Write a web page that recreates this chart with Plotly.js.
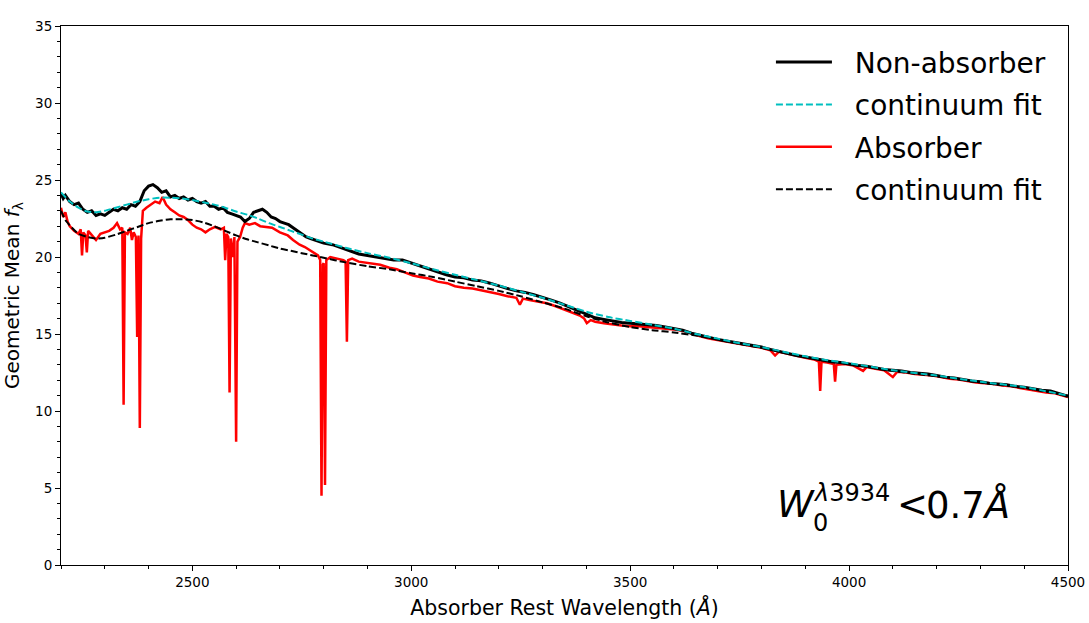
<!DOCTYPE html>
<html>
<head>
<meta charset="utf-8">
<script src="https://cdn.plot.ly/plotly-3.0.1.min.js"></script>
<style>
  html, body { margin: 0; padding: 0; background: white; }
  #chart { width: 1089px; height: 623px; }
</style>
</head>
<body>
<div id="chart"></div>
<script>
// Non-absorber composite (black solid)
const nonAbsWave = [2200, 2205, 2210, 2220, 2230, 2240, 2250, 2260, 2270, 2280, 2290, 2300, 2310, 2320, 2330, 2340, 2350, 2360, 2370, 2380,
    2390, 2400, 2410, 2420, 2430, 2440, 2450, 2460, 2470, 2480, 2490, 2500, 2510, 2520, 2530, 2540, 2550, 2560, 2570, 2580,
    2590, 2600, 2610, 2620, 2630, 2640, 2650, 2660, 2670, 2680, 2690, 2700, 2710, 2720, 2730, 2740, 2750, 2760, 2770, 2780,
    2790, 2800, 2820, 2840, 2860, 2880, 2900, 2920, 2940, 2960, 2980, 3000, 3020, 3040, 3060, 3080, 3100, 3120, 3140, 3160,
    3180, 3200, 3220, 3240, 3260, 3280, 3300, 3320, 3340, 3360, 3380, 3400, 3420, 3440, 3460, 3480, 3500, 3520, 3540, 3560,
    3580, 3600, 3620, 3640, 3660, 3680, 3700, 3720, 3740, 3760, 3780, 3800, 3820, 3840, 3860, 3880, 3900, 3920, 3940, 3960,
    3980, 4000, 4020, 4040, 4060, 4080, 4100, 4120, 4140, 4160, 4180, 4200, 4220, 4240, 4260, 4280, 4300, 4320, 4340, 4360,
    4380, 4400, 4420, 4440, 4460, 4480, 4500];
const nonAbsFlux = [24.1, 23.8, 24.0, 23.6, 23.4, 23.5, 23.1, 22.9, 23.0, 22.7, 22.8, 22.7, 22.9, 23.1, 23.0, 23.2, 23.1, 23.4, 23.3, 23.6,
    24.3, 24.6, 24.7, 24.5, 24.2, 24.3, 23.9, 24.0, 23.8, 23.9, 23.7, 23.8, 23.6, 23.5, 23.6, 23.3, 23.3, 23.1, 23.2, 22.9,
    22.8, 22.7, 22.6, 22.3, 22.5, 22.9, 23.0, 23.1, 22.9, 22.6, 22.5, 22.3, 22.2, 22.1, 21.9, 21.7, 21.5, 21.3, 21.2, 21.1,
    21.0, 20.9, 20.8, 20.6, 20.4, 20.2, 20.1, 20.0, 19.9, 19.8, 19.8, 19.6, 19.4, 19.2, 19.0, 18.85, 18.7, 18.65, 18.5, 18.45,
    18.3, 18.1, 17.95, 17.8, 17.7, 17.55, 17.4, 17.2, 17.0, 16.75, 16.5, 16.25, 16.05, 15.95, 15.85, 15.75, 15.7, 15.65, 15.6, 15.55,
    15.45, 15.35, 15.25, 15.05, 14.9, 14.75, 14.65, 14.55, 14.45, 14.35, 14.25, 14.15, 14.0, 13.85, 13.75, 13.6, 13.5, 13.4, 13.3, 13.2,
    13.15, 13.05, 12.95, 12.9, 12.8, 12.7, 12.65, 12.6, 12.5, 12.45, 12.4, 12.3, 12.2, 12.15, 12.05, 11.95, 11.9, 11.8, 11.75, 11.7,
    11.6, 11.55, 11.45, 11.35, 11.3, 11.1, 10.95];

// Continuum fit to non-absorber (cyan dashed)
const nonAbsFitWave = [2200, 2220, 2240, 2260, 2280, 2300, 2325, 2350, 2375, 2400, 2425, 2450, 2475, 2500, 2525, 2550, 2575, 2600, 2625, 2650,
    2675, 2700, 2725, 2750, 2775, 2800, 2850, 2900, 2950, 3000, 3050, 3100, 3150, 3200, 3250, 3300, 3350, 3400, 3450, 3500,
    3550, 3600, 3650, 3700, 3750, 3800, 3850, 3900, 3950, 4000, 4100, 4200, 4300, 4400, 4500];
const nonAbsFitFlux = [24.2, 23.6, 23.2, 22.95, 22.9, 23.0, 23.2, 23.4, 23.6, 23.75, 23.85, 23.85, 23.8, 23.7, 23.55, 23.4, 23.2, 22.95, 22.75, 22.5,
    22.2, 21.95, 21.7, 21.45, 21.2, 21.0, 20.6, 20.25, 19.95, 19.6, 19.2, 18.85, 18.5, 18.15, 17.75, 17.35, 16.9, 16.45, 16.1, 15.85,
    15.6, 15.35, 15.0, 14.7, 14.4, 14.15, 13.85, 13.55, 13.3, 13.1, 12.65, 12.3, 11.9, 11.55, 11.0];

// Absorber composite (red solid)
const absWave = [2200, 2205, 2210, 2215, 2220, 2230, 2240, 2245, 2248, 2251, 2256, 2259, 2262, 2270, 2280, 2290, 2300, 2310, 2320, 2328,
    2335, 2340, 2343, 2346, 2352, 2358, 2362, 2366, 2371, 2374, 2377, 2380, 2383, 2387, 2395, 2405, 2415, 2425, 2432, 2440,
    2450, 2460, 2470, 2480, 2490, 2500, 2510, 2520, 2530, 2540, 2552, 2565, 2572, 2575, 2578, 2582, 2585, 2588, 2593, 2596,
    2600, 2603, 2609, 2615, 2620, 2630, 2643, 2655, 2670, 2682, 2700, 2718, 2730, 2745, 2757, 2770, 2787, 2792, 2795, 2798,
    2800, 2803, 2806, 2815, 2833, 2845, 2850, 2853, 2856, 2865, 2880, 2900, 2929, 2950, 2967, 2985, 3004, 3020, 3040, 3060,
    3082, 3100, 3120, 3140, 3157, 3180, 3200, 3220, 3240, 3248, 3255, 3270, 3290, 3310, 3330, 3350, 3370, 3385, 3395, 3401,
    3410, 3420, 3440, 3461, 3480, 3500, 3520, 3539, 3560, 3580, 3600, 3620, 3640, 3660, 3680, 3700, 3720, 3740, 3760, 3780,
    3800, 3820, 3831, 3840, 3860, 3880, 3900, 3920, 3931, 3934, 3937, 3950, 3965, 3968, 3971, 3990, 4010, 4032, 4040, 4060,
    4080, 4100, 4110, 4130, 4150, 4170, 4190, 4210, 4230, 4250, 4270, 4290, 4310, 4330, 4350, 4370, 4390, 4410, 4430, 4450,
    4470, 4490, 4500];
const absFlux = [23.2, 22.6, 22.9, 22.3, 22.0, 21.7, 21.5, 21.8, 20.1, 21.6, 21.4, 20.3, 21.7, 21.4, 21.1, 21.5, 21.6, 21.7, 21.9, 22.2,
    21.8, 21.9, 10.4, 21.6, 21.5, 21.9, 21.1, 21.6, 21.3, 14.8, 21.4, 8.9, 21.2, 23.0, 23.2, 23.4, 23.6, 23.5, 23.9, 23.4,
    23.1, 22.9, 22.7, 22.6, 22.4, 22.1, 21.9, 21.8, 21.6, 21.8, 21.95, 21.8, 21.9, 19.8, 21.5, 21.3, 11.2, 21.2, 20.0, 21.3,
    8.0, 21.0, 21.3, 21.9, 22.2, 22.1, 22.2, 22.0, 21.95, 21.9, 21.6, 21.4, 21.1, 20.8, 20.65, 20.4, 20.1, 19.8, 4.5, 19.5,
    19.6, 5.2, 19.8, 20.0, 19.9, 19.8, 19.7, 14.5, 19.8, 19.9, 19.7, 19.6, 19.5, 19.3, 19.2, 19.0, 18.8, 18.7, 18.6, 18.4,
    18.3, 18.1, 18.0, 17.95, 17.86, 17.7, 17.6, 17.45, 17.35, 16.9, 17.3, 17.2, 17.1, 17.0, 16.8, 16.6, 16.35, 16.2, 16.0, 15.7,
    15.9, 15.8, 15.7, 15.6, 15.55, 15.5, 15.5, 15.45, 15.4, 15.35, 15.3, 15.2, 15.0, 14.85, 14.7, 14.6, 14.5, 14.4, 14.3, 14.2,
    14.1, 13.95, 13.6, 13.85, 13.7, 13.55, 13.45, 13.35, 13.2, 11.3, 13.2, 13.15, 13.05, 11.9, 13.0, 13.05, 12.95, 12.6, 12.85, 12.75,
    12.65, 12.2, 12.55, 12.5, 12.4, 12.35, 12.3, 12.2, 12.1, 12.05, 11.95, 11.85, 11.8, 11.75, 11.65, 11.6, 11.5, 11.4, 11.3, 11.2,
    11.15, 11.0, 10.9];

// Continuum fit to absorber (black dashed)
const absFitWave = [2200, 2210, 2225, 2240, 2260, 2280, 2300, 2325, 2350, 2375, 2400, 2425, 2450, 2475, 2500, 2525, 2550, 2575, 2600, 2625,
    2650, 2675, 2700, 2725, 2750, 2775, 2800, 2850, 2900, 2950, 3000, 3050, 3100, 3150, 3200, 3250, 3300, 3350, 3400, 3450,
    3500, 3550, 3600, 3650, 3700, 3750, 3800, 3850, 3900, 3950, 4000, 4100, 4200, 4300, 4400, 4500];
const absFitFlux = [23.0, 22.4, 21.9, 21.5, 21.3, 21.2, 21.25, 21.45, 21.7, 21.95, 22.2, 22.35, 22.45, 22.45, 22.4, 22.25, 22.0, 21.7, 21.4, 21.15,
    20.95, 20.75, 20.55, 20.4, 20.25, 20.1, 19.95, 19.65, 19.4, 19.2, 18.95, 18.7, 18.4, 18.1, 17.8, 17.45, 17.05, 16.65, 16.15, 15.75,
    15.45, 15.25, 15.1, 14.9, 14.65, 14.35, 14.1, 13.8, 13.5, 13.25, 13.05, 12.6, 12.25, 11.85, 11.5, 11.0];

const seriesNames = ['Non-absorber', 'continuum fit', 'Absorber', 'continuum fit'];
const FONT = 'DejaVu Sans, sans-serif';
const PAD = '\u00a0\u00a0';   // extra gap between legend line and text

const traces = [
    {
        x: absWave, y: absFlux, type: 'scatter', mode: 'lines',
        name: PAD + seriesNames[2], legendrank: 3, legendgroup: 'g3',
        line: { color: '#ff0000', width: 2.5 }
    },
    {
        x: absFitWave, y: absFitFlux, type: 'scatter', mode: 'lines',
        name: PAD + seriesNames[3], legendrank: 4, legendgroup: 'g4',
        line: { color: '#000000', width: 2, dash: '7px,3px', shape: 'spline', smoothing: 0.6 }
    },
    {
        x: nonAbsWave, y: nonAbsFlux, type: 'scatter', mode: 'lines',
        name: PAD + seriesNames[0], legendrank: 1, legendgroup: 'g1',
        line: { color: '#000000', width: 3 }
    },
    {
        x: nonAbsFitWave, y: nonAbsFitFlux, type: 'scatter', mode: 'lines',
        name: PAD + seriesNames[1], legendrank: 2, legendgroup: 'g2',
        line: { color: '#00bfbf', width: 2, dash: '7px,3px', shape: 'spline', smoothing: 0.6 }
    }
];

const axisCommon = {
    showline: true, linecolor: 'black', linewidth: 1, mirror: true,
    showgrid: false, zeroline: false,
    ticks: 'outside', ticklen: 5, tickwidth: 1, tickcolor: 'black',
    tickfont: { family: FONT, size: 13.5, color: 'black' }
};

// W_0^{λ3934} < 0.7Å, built from pieces so the sub and superscript stack like mathtext
const label = (x, y, text, size) => ({
    xref: 'x', yref: 'y', x: x, y: y, xanchor: 'left', yanchor: 'middle',
    showarrow: false, text: text,
    font: { family: FONT, size: size, color: 'black' }
});

const layout = {
    width: 1089,
    height: 623,
    margin: { l: 61, r: 21, t: 26, b: 58, pad: 0 },
    paper_bgcolor: 'white',
    plot_bgcolor: 'white',
    showlegend: true,
    xaxis: Object.assign({}, axisCommon, {
        range: [2200, 4500],
        tickvals: [2500, 3000, 3500, 4000, 4500],
        minor: { dtick: 100, tick0: 2200, ticks: 'outside', ticklen: 3, tickcolor: 'black', showgrid: false },
        title: { text: 'Absorber Rest Wavelength (<i>Å</i>)', font: { family: FONT, size: 20.5, color: 'black' }, standoff: 11 }
    }),
    yaxis: Object.assign({}, axisCommon, {
        range: [0, 35],
        dtick: 5,
        minor: { dtick: 1, ticks: 'outside', ticklen: 3, tickcolor: 'black', showgrid: false },
        title: { text: 'Geometric Mean <i>f</i><sub>λ</sub>', font: { family: FONT, size: 20, color: 'black' }, standoff: 13 }
    }),
    legend: {
        x: 0.705, xanchor: 'left',
        y: 0.979, yanchor: 'top',
        bgcolor: 'rgba(0,0,0,0)', borderwidth: 0,
        font: { family: FONT, size: 28, color: 'black' },
        traceorder: 'grouped', tracegroupgap: 3,
        itemwidth: 56
    },
    annotations: [
        label(3830, 3.9, '<i>W</i>', 37),
        label(3912, 4.68, '<i>λ</i>3934', 24),
        label(3912, 2.72, '0', 24),
        label(4104, 3.9, '&lt;', 37),
        label(4171, 3.9, '0.7<i>Å</i>', 37)
    ]
};

Plotly.newPlot('chart', traces, layout, { displayModeBar: false, responsive: false });
</script>
</body>
</html>
